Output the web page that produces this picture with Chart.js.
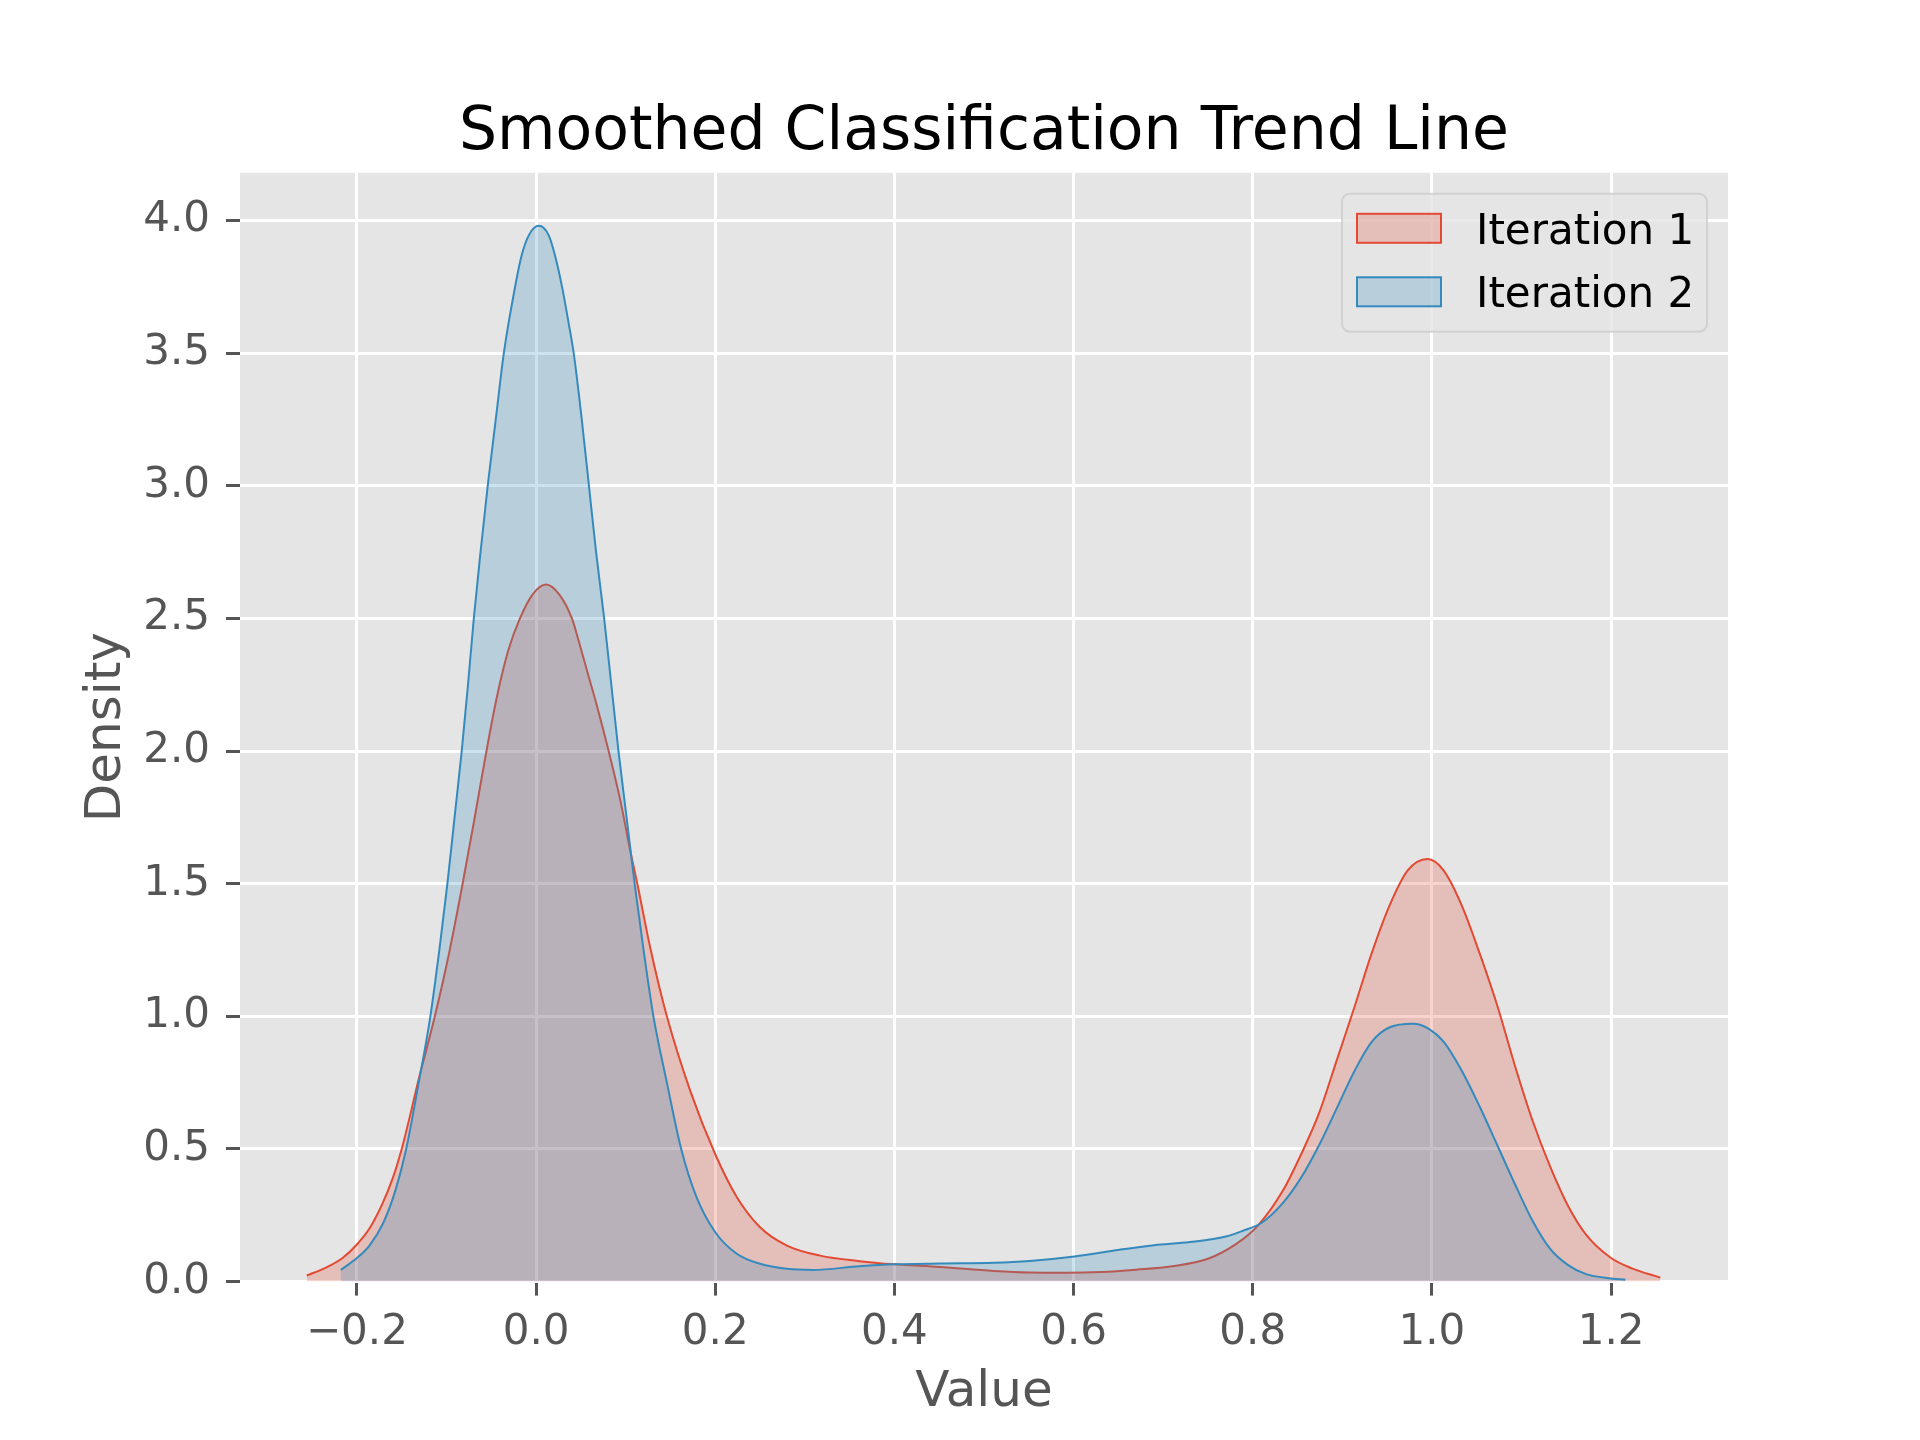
<!DOCTYPE html>
<html>
<head>
<meta charset="utf-8">
<title>Smoothed Classification Trend Line</title>
<script src="https://cdn.jsdelivr.net/npm/chart.js@4.4.1/dist/chart.umd.min.js"></script>
<style>
  html, body { margin: 0; padding: 0; background: #ffffff; }
  #wrap { width: 1920px; height: 1440px; }
</style>
</head>
<body>
<div id="wrap"><canvas id="kdeChart" width="1920" height="1440"></canvas></div>
<script>
// density curves
const iter1X = [-0.256, -0.235, -0.216, -0.2, -0.186, -0.172, -0.16, -0.15, -0.14, -0.132,
  -0.122, -0.113, -0.097, -0.082, -0.069, -0.057, -0.044, -0.031, -0.018, -0.004,
  0.011, 0.026, 0.04, 0.048, 0.058, 0.068, 0.081, 0.094, 0.105, 0.113,
  0.128, 0.146, 0.172, 0.2, 0.224, 0.25, 0.28, 0.317, 0.361, 0.4,
  0.451, 0.511, 0.551, 0.591, 0.631, 0.67, 0.71, 0.75, 0.782, 0.806,
  0.834, 0.854, 0.874, 0.894, 0.914, 0.933, 0.953, 0.973, 0.995, 1.013,
  1.033, 1.053, 1.073, 1.093, 1.112, 1.132, 1.152, 1.172, 1.2, 1.224, 1.255];
const iter1Y = [0.023, 0.052, 0.089, 0.14, 0.2, 0.29, 0.39, 0.5, 0.635, 0.75,
  0.88, 1.0, 1.24, 1.5, 1.74, 1.97, 2.2, 2.38, 2.5, 2.59,
  2.628, 2.59, 2.5, 2.41, 2.29, 2.17, 2.0, 1.815, 1.626, 1.5,
  1.25, 1.0, 0.72, 0.48, 0.319, 0.205, 0.136, 0.098, 0.077, 0.065,
  0.055, 0.04, 0.034, 0.033, 0.036, 0.045, 0.058, 0.086, 0.143, 0.212,
  0.345, 0.48, 0.635, 0.837, 1.04, 1.24, 1.42, 1.55, 1.593, 1.55,
  1.42, 1.24, 1.04, 0.81, 0.61, 0.433, 0.285, 0.177, 0.089, 0.049, 0.015];

const iter2X = [-0.218, -0.2, -0.186, -0.171, -0.157, -0.145, -0.131, -0.118, -0.108, -0.099,
  -0.091, -0.083, -0.076, -0.0695, -0.062, -0.054, -0.045, -0.036, -0.024, -0.016,
  -0.008, 0.003, 0.014, 0.021, 0.029, 0.036, 0.042, 0.051, 0.059, 0.067,
  0.076, 0.084, 0.092, 0.101, 0.11, 0.12, 0.131, 0.146, 0.162, 0.179,
  0.2, 0.224, 0.25, 0.28, 0.309, 0.361, 0.4, 0.451, 0.511, 0.551,
  0.601, 0.651, 0.69, 0.73, 0.77, 0.79, 0.81, 0.834, 0.854, 0.874,
  0.894, 0.914, 0.933, 0.953, 0.979, 0.997, 1.013, 1.033, 1.053, 1.073,
  1.093, 1.112, 1.132, 1.152, 1.172, 1.2, 1.216];
const iter2Y = [0.044, 0.089, 0.136, 0.218, 0.344, 0.5, 0.75, 1.0, 1.25, 1.5,
  1.75, 2.0, 2.25, 2.5, 2.75, 3.0, 3.25, 3.5, 3.74, 3.87,
  3.945, 3.98, 3.945, 3.87, 3.75, 3.62, 3.5, 3.25, 3.0, 2.75,
  2.5, 2.25, 2.0, 1.75, 1.5, 1.25, 1.0, 0.75, 0.5, 0.319,
  0.186, 0.105, 0.067, 0.048, 0.044, 0.058, 0.065, 0.068, 0.071, 0.078,
  0.095, 0.12, 0.137, 0.149, 0.17, 0.193, 0.222, 0.298, 0.392, 0.514,
  0.655, 0.797, 0.905, 0.959, 0.972, 0.952, 0.905, 0.797, 0.662, 0.514,
  0.365, 0.231, 0.123, 0.062, 0.028, 0.012, 0.007];

const seriesLabels = ['Iteration 1', 'Iteration 2'];
const xTickValues = [-0.2, 0.0, 0.2, 0.4, 0.6, 0.8, 1.0, 1.2];
const yTickValues = [0.0, 0.5, 1.0, 1.5, 2.0, 2.5, 3.0, 3.5, 4.0];
const chartTitle = 'Smoothed Classification Trend Line';

const toPoints = (xs, ys) => xs.map((x, i) => ({ x: x, y: ys[i] }));

// grey panel behind the data, ggplot style
const plotBackground = {
    id: 'plotBackground',
    beforeDraw(chart) {
        const { ctx, chartArea: a } = chart;
        ctx.save();
        ctx.fillStyle = '#E5E5E5';
        ctx.fillRect(a.left, a.top, a.right - a.left, a.bottom - a.top);
        ctx.restore();
    }
};

// title centred over the plot area rather than the whole canvas
const axesTitle = {
    id: 'axesTitle',
    afterDraw(chart) {
        const { ctx, chartArea: a } = chart;
        ctx.save();
        ctx.font = '60px "DejaVu Sans"';
        ctx.fillStyle = '#000000';
        ctx.textAlign = 'center';
        ctx.textBaseline = 'middle';
        ctx.fillText(chartTitle, (a.left + a.right) / 2, 133);
        ctx.restore();
    }
};

// legend box in the upper right of the plot area
const innerLegend = {
    id: 'innerLegend',
    afterDraw(chart) {
        const { ctx, chartArea: a } = chart;
        const boxW = 365, boxH = 138;
        const left = a.right - 21 - boxW, top = a.top + 21;
        ctx.save();
        ctx.beginPath();
        ctx.roundRect(left, top, boxW, boxH, 8);
        ctx.fillStyle = 'rgba(229, 229, 229, 0.8)';
        ctx.fill();
        ctx.lineWidth = 2;
        ctx.strokeStyle = 'rgba(204, 204, 204, 0.8)';
        ctx.stroke();

        ctx.font = '42px "DejaVu Sans"';
        ctx.textBaseline = 'middle';
        ctx.textAlign = 'left';
        chart.data.datasets.forEach((ds, i) => {
            const rowY = top + 20 + i * 63.5;
            ctx.fillStyle = ds.backgroundColor;
            ctx.fillRect(left + 15, rowY, 84, 29);
            ctx.lineWidth = 2;
            ctx.strokeStyle = ds.borderColor;
            ctx.strokeRect(left + 15, rowY, 84, 29);
            ctx.fillStyle = '#000000';
            ctx.fillText(ds.label, left + 134, rowY + 19);
        });
        ctx.restore();
    }
};

const ctx = document.getElementById('kdeChart').getContext('2d');

const kdeChart = new Chart(ctx, {
    type: 'line',
    data: {
        datasets: [{
            label: seriesLabels[0],
            data: toPoints(iter1X, iter1Y),
            borderColor: '#E24A33',
            backgroundColor: 'rgba(226, 74, 51, 0.25)',
            borderWidth: 2,
            fill: 'origin',
            cubicInterpolationMode: 'monotone',
            pointRadius: 0,
            order: 2
        }, {
            label: seriesLabels[1],
            data: toPoints(iter2X, iter2Y),
            borderColor: '#348ABD',
            backgroundColor: 'rgba(52, 138, 189, 0.25)',
            borderWidth: 2,
            fill: 'origin',
            cubicInterpolationMode: 'monotone',
            pointRadius: 0,
            order: 1
        }]
    },
    options: {
        responsive: false,
        devicePixelRatio: 1,
        animation: false,
        layout: { padding: { left: 0, right: 192, top: 172.8, bottom: 0 } },
        plugins: {
            legend: { display: false },
            tooltip: { enabled: false },
            title: { display: false }
        },
        scales: {
            x: {
                type: 'linear',
                min: -0.3305,
                max: 1.3305,
                afterBuildTicks: scale => { scale.ticks = xTickValues.map(v => ({ value: v })); },
                afterFit: scale => { scale.height = 158.4; },
                ticks: {
                    color: '#555555',
                    font: { family: 'DejaVu Sans', size: 42 },
                    padding: 12,
                    maxRotation: 0,
                    callback: v => (v < 0 ? '\u2212' : '') + Math.abs(v).toFixed(1)
                },
                grid: { color: '#FFFFFF', lineWidth: 3, tickColor: '#555555', tickLength: 14, tickWidth: 3 },
                border: { display: false },
                title: {
                    display: true,
                    text: 'Value',
                    color: '#555555',
                    font: { family: 'DejaVu Sans', size: 50 },
                    padding: { top: 0, bottom: 17 }
                }
            },
            y: {
                type: 'linear',
                min: 0,
                max: 4.18,
                afterBuildTicks: scale => { scale.ticks = yTickValues.map(v => ({ value: v })); },
                afterFit: scale => { scale.width = 240; },
                ticks: {
                    color: '#555555',
                    font: { family: 'DejaVu Sans', size: 42 },
                    padding: 16,
                    callback: v => v.toFixed(1)
                },
                grid: { color: '#FFFFFF', lineWidth: 3, tickColor: '#555555', tickLength: 14, tickWidth: 3 },
                border: { display: false },
                title: {
                    display: true,
                    text: 'Density',
                    color: '#555555',
                    font: { family: 'DejaVu Sans', size: 50 },
                    padding: { top: 77, bottom: 0 }
                }
            }
        }
    },
    plugins: [plotBackground, axesTitle, innerLegend]
});
</script>
</body>
</html>
